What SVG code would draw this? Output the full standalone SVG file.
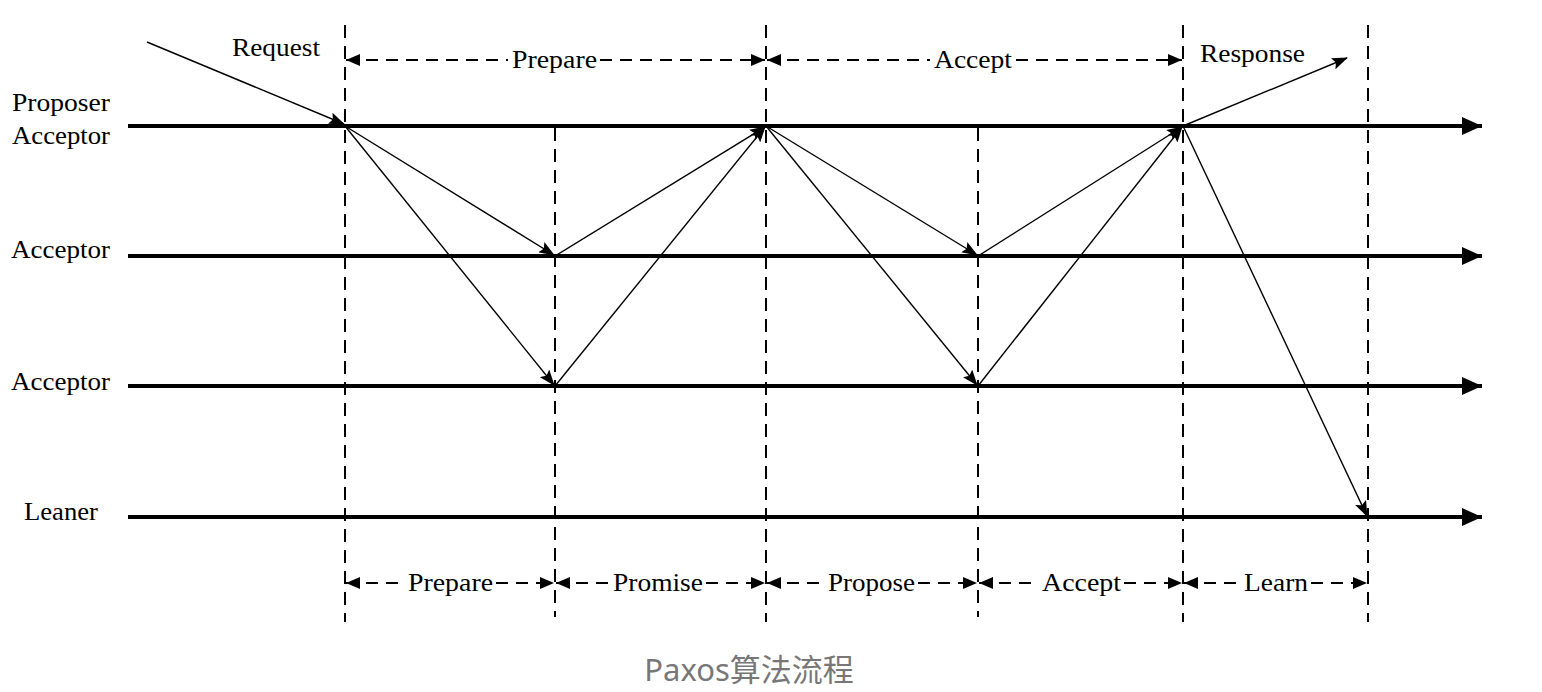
<svg xmlns="http://www.w3.org/2000/svg" width="1542" height="692" viewBox="0 0 1542 692">
<style>
.lbl{font-family:"Liberation Serif","Times New Roman",serif;font-size:25px;fill:#000}
.axis{stroke:#000;stroke-width:4;fill:none}
.msg{stroke:#000;stroke-width:1.4;fill:none}
.vdash{stroke:#000;stroke-width:2;stroke-dasharray:13 8;fill:none}
.dim{stroke:#000;stroke-width:2;stroke-dasharray:12 8;fill:none}
.cap{font-family:"Noto Sans","Noto Sans CJK SC",sans-serif;font-size:31px;fill:#777}
</style>
<defs>
<marker id="am" viewBox="0 0 16 12" refX="15" refY="6" markerWidth="16" markerHeight="12" orient="auto" markerUnits="userSpaceOnUse"><path d="M0,0 L16,6 L0,12 L3,6 Z" fill="#000"/></marker>
<marker id="ax" viewBox="0 0 20 18" refX="20" refY="9" markerWidth="20" markerHeight="18" orient="auto" markerUnits="userSpaceOnUse"><path d="M0,0 L20,9 L0,18 Z" fill="#000"/></marker>
<marker id="ad" viewBox="0 0 14 12" refX="14" refY="6" markerWidth="14" markerHeight="12" orient="auto-start-reverse" markerUnits="userSpaceOnUse"><path d="M0,0 L14,6 L0,12 Z" fill="#000"/></marker>
</defs>

<g id="lane-proposer">
<line class="axis" x1="128" y1="126" x2="1482" y2="126" marker-end="url(#ax)"/>
<text class="lbl" x="12" y="111" textLength="98" lengthAdjust="spacingAndGlyphs">Proposer</text>
<text class="lbl" x="12" y="144" textLength="98" lengthAdjust="spacingAndGlyphs">Acceptor</text>
</g>
<g id="lane-acceptor1">
<line class="axis" x1="128" y1="256" x2="1482" y2="256" marker-end="url(#ax)"/>
<text class="lbl" x="11" y="258" textLength="99" lengthAdjust="spacingAndGlyphs">Acceptor</text>
</g>
<g id="lane-acceptor2">
<line class="axis" x1="128" y1="386" x2="1482" y2="386" marker-end="url(#ax)"/>
<text class="lbl" x="11" y="390" textLength="99" lengthAdjust="spacingAndGlyphs">Acceptor</text>
</g>
<g id="lane-leaner">
<line class="axis" x1="128" y1="517" x2="1482" y2="517" marker-end="url(#ax)"/>
<text class="lbl" x="24" y="520" textLength="74" lengthAdjust="spacingAndGlyphs">Leaner</text>
</g>

<g id="dividers">
<line class="vdash" x1="345" y1="25" x2="345" y2="622"/>
<line class="vdash" x1="555" y1="128" x2="555" y2="617"/>
<line class="vdash" x1="766" y1="25" x2="766" y2="622"/>
<line class="vdash" x1="978" y1="128" x2="978" y2="617"/>
<line class="vdash" x1="1183" y1="25" x2="1183" y2="622"/>
<line class="vdash" x1="1368" y1="25" x2="1368" y2="622"/>
</g>

<g id="connectors">
<line class="msg" x1="147" y1="42" x2="344" y2="124" marker-end="url(#am)"/>
<line class="msg" x1="345" y1="126" x2="554" y2="255" marker-end="url(#am)"/>
<line class="msg" x1="345" y1="126" x2="554" y2="385" marker-end="url(#am)"/>
<line class="msg" x1="555" y1="256" x2="765" y2="127" marker-end="url(#am)"/>
<line class="msg" x1="555" y1="386" x2="765" y2="127" marker-end="url(#am)"/>
<line class="msg" x1="766" y1="126" x2="977" y2="255" marker-end="url(#am)"/>
<line class="msg" x1="766" y1="126" x2="977" y2="385" marker-end="url(#am)"/>
<line class="msg" x1="978" y1="256" x2="1182" y2="127" marker-end="url(#am)"/>
<line class="msg" x1="978" y1="386" x2="1182" y2="127" marker-end="url(#am)"/>
<line class="msg" x1="1183" y1="126" x2="1347" y2="58" marker-end="url(#am)"/>
<line class="msg" x1="1183" y1="126" x2="1367" y2="516" marker-end="url(#am)"/>
</g>

<g id="top-labels">
<text class="lbl" x="232" y="56" textLength="88" lengthAdjust="spacingAndGlyphs">Request</text>
<text class="lbl" x="1200" y="62" textLength="105" lengthAdjust="spacingAndGlyphs">Response</text>
<line class="dim" x1="346" y1="60" x2="508" y2="60" marker-start="url(#ad)"/>
<line class="dim" x1="600" y1="60" x2="765" y2="60" marker-end="url(#ad)"/>
<text class="lbl" x="512" y="68" textLength="85" lengthAdjust="spacingAndGlyphs">Prepare</text>
<line class="dim" x1="767" y1="60" x2="930" y2="60" marker-start="url(#ad)"/>
<line class="dim" x1="1016" y1="60" x2="1182" y2="60" marker-end="url(#ad)"/>
<text class="lbl" x="934" y="68" textLength="78" lengthAdjust="spacingAndGlyphs">Accept</text>
</g>

<g id="bottom-labels">
<line class="dim" x1="346" y1="583" x2="404" y2="583" marker-start="url(#ad)"/>
<line class="dim" x1="496" y1="583" x2="554" y2="583" marker-end="url(#ad)"/>
<text class="lbl" x="408" y="591" textLength="85" lengthAdjust="spacingAndGlyphs">Prepare</text>
<line class="dim" x1="556" y1="583" x2="609" y2="583" marker-start="url(#ad)"/>
<line class="dim" x1="706" y1="583" x2="765" y2="583" marker-end="url(#ad)"/>
<text class="lbl" x="613" y="591" textLength="90" lengthAdjust="spacingAndGlyphs">Promise</text>
<line class="dim" x1="767" y1="583" x2="825" y2="583" marker-start="url(#ad)"/>
<line class="dim" x1="918" y1="583" x2="977" y2="583" marker-end="url(#ad)"/>
<text class="lbl" x="828" y="591" textLength="87" lengthAdjust="spacingAndGlyphs">Propose</text>
<line class="dim" x1="979" y1="583" x2="1038" y2="583" marker-start="url(#ad)"/>
<line class="dim" x1="1124" y1="583" x2="1182" y2="583" marker-end="url(#ad)"/>
<text class="lbl" x="1042" y="591" textLength="79" lengthAdjust="spacingAndGlyphs">Accept</text>
<line class="dim" x1="1184" y1="583" x2="1240" y2="583" marker-start="url(#ad)"/>
<line class="dim" x1="1311" y1="583" x2="1367" y2="583" marker-end="url(#ad)"/>
<text class="lbl" x="1244" y="591" textLength="64" lengthAdjust="spacingAndGlyphs">Learn</text>
</g>

<text class="cap" x="749" y="681" text-anchor="middle">Paxos算法流程</text>
</svg>
